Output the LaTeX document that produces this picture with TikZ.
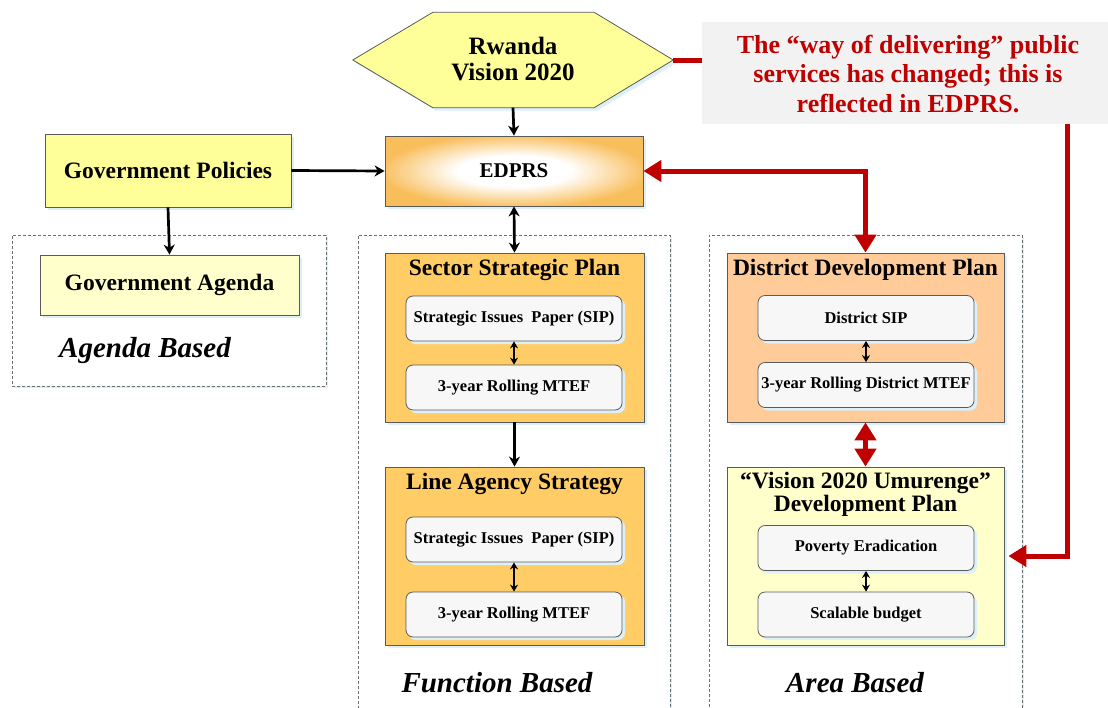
\documentclass[tikz,border=0pt]{standalone}
\usepackage{fontspec}
\setmainfont{Liberation Serif}
\usetikzlibrary{arrows.meta,shadows,calc}
\definecolor{redA}{HTML}{C00000}
\definecolor{hexY}{HTML}{FFFF99}
\definecolor{lightY}{HTML}{FFFFCC}
\definecolor{orangeS}{HTML}{FFCC66}
\definecolor{edprsO}{HTML}{F9BE5C}
\definecolor{peach}{HTML}{FFCC99}
\definecolor{innerG}{HTML}{F7F7F7}
\definecolor{noteG}{HTML}{F2F2F2}
\definecolor{bord}{HTML}{5A5A5A}
\definecolor{shadowB}{HTML}{DDF0F8}
\definecolor{dashG}{HTML}{6E6E6E}
\pgfdeclareradialshading{edprsglow}{\pgfpoint{0bp}{0bp}}{%
  color(0bp)=(white); color(11bp)=(white); color(26bp)=(edprsO); color(50bp)=(edprsO)}
\newcommand\ftitle{\fontsize{23.5}{23}\selectfont\bfseries}
\newcommand\finner{\fontsize{16.5}{18}\selectfont\bfseries}
\newcommand\fgroup{\fontsize{29}{30}\selectfont\bfseries\itshape}
\tikzset{
  shad/.style={drop shadow={shadow xshift=3pt, shadow yshift=-3pt, fill=shadowB, opacity=1}},
  box/.style={draw=bord, line width=0.8pt, inner sep=0pt, shad, font=\ftitle, align=center},
  innerbox/.style={draw=bord, line width=0.8pt, rounded corners=7pt, fill=innerG, inner sep=0pt,
     minimum width=216pt, minimum height=45pt, font=\finner, shad},
  ttl/.style={inner sep=0pt, font=\ftitle, align=center},
  group/.style={draw=dashG, dash pattern=on 3pt off 2pt, line width=0.8pt, fill=white, inner sep=0pt,
     drop shadow={shadow xshift=2pt, shadow yshift=-2pt, fill=shadowB, opacity=1}},
  grouplabel/.style={inner sep=0pt, font=\fgroup},
  blk/.style={line width=2.7pt, -{Stealth[length=10pt,width=11pt]}},
  blkboth/.style={line width=2.7pt, {Stealth[length=10pt,width=11pt]}-{Stealth[length=10pt,width=11pt]}},
  smallboth/.style={line width=1.4pt, {Stealth[length=7pt,width=8pt]}-{Stealth[length=7pt,width=8pt]}},
  redline/.style={draw=redA, line width=5pt},
  redend/.style={redline, -{Triangle[length=18pt,width=21pt]}},
  redboth/.style={redline, {Triangle[length=18pt,width=21pt]}-{Triangle[length=18pt,width=21pt]}},
}
\begin{document}
\begin{tikzpicture}[x=1pt,y=-1pt]
\useasboundingbox (0,0) rectangle (1108,707);

% group boxes
\node[group, minimum width=314pt, minimum height=151pt] (agendaG) at (169,310.5) {};
\node[group, minimum width=312pt, minimum height=490pt] (funcG) at (514,480) {};
\node[group, minimum width=313pt, minimum height=490pt] (areaG) at (865.5,480) {};
\node[grouplabel] (agendaL) at (145,351) {Agenda Based};
\node[grouplabel] (funcL) at (497,683) {Function Based};
\node[grouplabel] (areaL) at (855,683) {Area Based};

% hexagon
\node[inner sep=0pt, minimum width=320pt, minimum height=95pt] (rv) at (513,60) {};
\path[draw=bord, line width=0.8pt, fill=hexY, shad]
  (rv.west) -- ($(rv.north west)+(80,0)$) -- ($(rv.north east)+(-79,0)$) -- (rv.east)
  -- ($(rv.south east)+(-79,0)$) -- ($(rv.south west)+(80,0)$) -- cycle;
\node[inner sep=0pt, align=center, font=\fontsize{25}{26}\selectfont\bfseries] (rvt) at (513,59) {Rwanda\\Vision 2020};

% note
\node[fill=noteG, minimum width=406pt, minimum height=102pt, inner sep=0pt] (note) at (905,73) {};
\node[inner sep=0pt, align=center, text=redA, font=\fontsize{26}{29.5}\selectfont\bfseries] (notet) at (908,74)
  {The “way of delivering” public\\services has changed; this is\\reflected in EDPRS.};

% main boxes
\node[box, fill=hexY, minimum width=246pt, minimum height=73pt] (gp) at (168,170.5) {Government Policies};
\node[box, fill=lightY, minimum width=259pt, minimum height=60pt] (ga) at (169.5,285) {Government Agenda};
\node[box, shading=edprsglow, minimum width=258pt, minimum height=70pt,
  font=\fontsize{21}{22}\selectfont\bfseries] (edprs) at (514,171) {EDPRS};

% sector strategic plan
\node[box, fill=orangeS, minimum width=259pt, minimum height=169pt] (ssp) at (514.5,337.5) {};
\node[ttl] (sspt) at (514.5,270) {Sector Strategic Plan};
\node[innerbox] (ssp1) at (514,318.5) {Strategic Issues\ \ Paper (SIP)};
\node[innerbox] (ssp2) at (514,387.5) {3-year Rolling MTEF};

% line agency strategy
\node[box, fill=orangeS, minimum width=259pt, minimum height=178pt] (las) at (514.5,556) {};
\node[ttl] (last) at (514.5,484) {Line Agency Strategy};
\node[innerbox] (las1) at (514,539.5) {Strategic Issues\ \ Paper (SIP)};
\node[innerbox] (las2) at (514,614.5) {3-year Rolling MTEF};

% district development plan
\node[box, fill=peach, minimum width=277pt, minimum height=169pt] (ddp) at (865.5,337.5) {};
\node[ttl] (ddpt) at (865.5,270) {District Development Plan};
\node[innerbox] (ddp1) at (866,318) {District SIP};
\node[innerbox] (ddp2) at (866,385) {3-year Rolling District MTEF};

% umurenge
\node[box, fill=lightY, minimum width=277pt, minimum height=178pt] (um) at (865.5,556) {};
\node[ttl] (umt) at (865.5,494) {“Vision 2020 Umurenge”\\Development Plan};
\node[innerbox] (um1) at (866,548) {Poverty Eradication};
\node[innerbox] (um2) at (866,614.5) {Scalable budget};

% black connectors
\draw[blk] (rv.south) -- (edprs.north);
\draw[blk] (gp.east) -- (edprs.west);
\draw[blk] (gp.south) -- (ga.north);
\draw[blkboth] (edprs.south) -- (ssp.north);
\draw[blk] (ssp.south) -- (las.north);
\draw[smallboth] (ssp1.south) -- (ssp2.north);
\draw[smallboth] (las1.south) -- (las2.north);
\draw[smallboth] (ddp1.south) -- (ddp2.north);
\draw[smallboth] (um1.south) -- (um2.north);

% red connectors
\draw[redline] (rv.east) -- (rv.east -| note.west);
\draw[redboth] (edprs.east) -| (ddp.north);
\draw[redboth] (ddp.south) -- (um.north);
\draw[redend] ([xshift=162pt]note.south) |- ([xshift=4pt]um.east);
\end{tikzpicture}
\end{document}
